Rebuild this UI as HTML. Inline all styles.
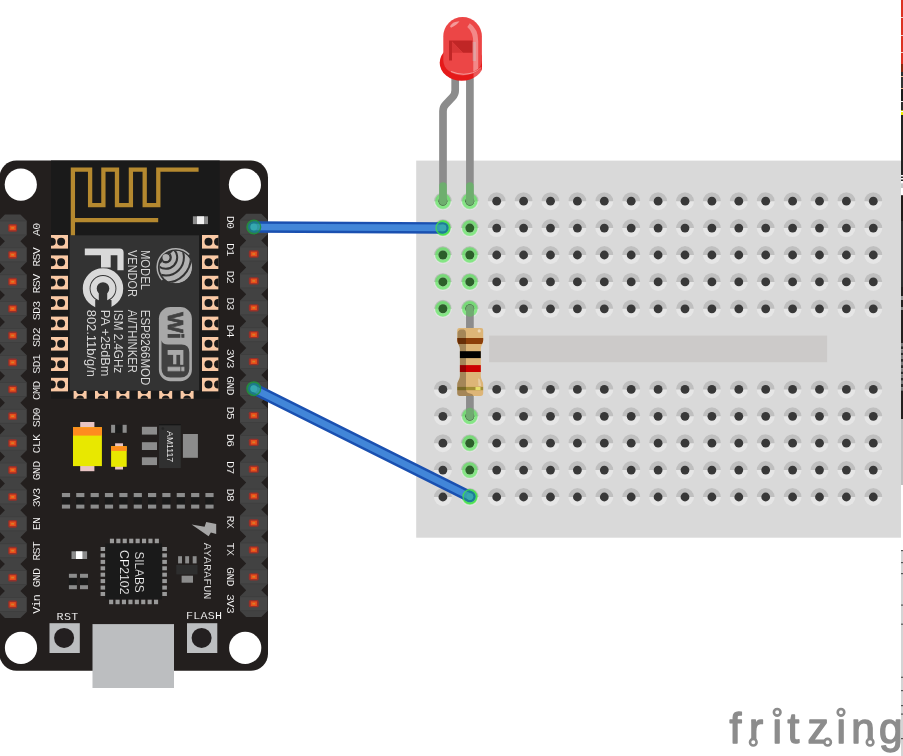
<!DOCTYPE html>
<html lang="en">
<head>
<meta charset="utf-8">
<title>NodeMCU LED breadboard diagram</title>
<style>
html,body{margin:0;padding:0;background:#fff;overflow:hidden}
svg{display:block;will-change:transform}
</style>
</head>
<body>
<svg width="903" height="756" viewBox="0 0 903 756">
<rect width="903" height="756" fill="#fff"/>
<defs><g id="h"><circle r="9" fill="#e6e6e6"/><path d="M-9 0A9 9 0 0 1 9 0Z" fill="#bfbfbf"/><circle r="4.4" fill="#383838"/></g><g id="hg"><circle r="9" fill="#e6e6e6"/><path d="M-9 0A9 9 0 0 1 9 0Z" fill="#bfbfbf"/><circle r="8.2" fill="#55e655" opacity="0.3"/><circle r="6.2" fill="none" stroke="#4fe84f" stroke-width="2.8" opacity="0.5"/><circle r="4.5" fill="#2c5f2a"/></g></defs>
<g id="breadboard">
<rect x="416.2" y="160.6" width="484.8" height="377.1" fill="#d9d9d9"/>
<rect x="489.1" y="335.6" width="338" height="26.6" fill="#cccac9"/>
<use href="#hg" x="442.90" y="201.20"/>
<use href="#hg" x="469.80" y="201.20"/>
<use href="#h" x="496.70" y="201.20"/>
<use href="#h" x="523.60" y="201.20"/>
<use href="#h" x="550.50" y="201.20"/>
<use href="#h" x="577.40" y="201.20"/>
<use href="#h" x="604.30" y="201.20"/>
<use href="#h" x="631.20" y="201.20"/>
<use href="#h" x="658.10" y="201.20"/>
<use href="#h" x="685.00" y="201.20"/>
<use href="#h" x="711.90" y="201.20"/>
<use href="#h" x="738.80" y="201.20"/>
<use href="#h" x="765.70" y="201.20"/>
<use href="#h" x="792.60" y="201.20"/>
<use href="#h" x="819.50" y="201.20"/>
<use href="#h" x="846.40" y="201.20"/>
<use href="#h" x="873.30" y="201.20"/>
<use href="#hg" x="442.90" y="228.10"/>
<use href="#hg" x="469.80" y="228.10"/>
<use href="#h" x="496.70" y="228.10"/>
<use href="#h" x="523.60" y="228.10"/>
<use href="#h" x="550.50" y="228.10"/>
<use href="#h" x="577.40" y="228.10"/>
<use href="#h" x="604.30" y="228.10"/>
<use href="#h" x="631.20" y="228.10"/>
<use href="#h" x="658.10" y="228.10"/>
<use href="#h" x="685.00" y="228.10"/>
<use href="#h" x="711.90" y="228.10"/>
<use href="#h" x="738.80" y="228.10"/>
<use href="#h" x="765.70" y="228.10"/>
<use href="#h" x="792.60" y="228.10"/>
<use href="#h" x="819.50" y="228.10"/>
<use href="#h" x="846.40" y="228.10"/>
<use href="#h" x="873.30" y="228.10"/>
<use href="#hg" x="442.90" y="255.00"/>
<use href="#hg" x="469.80" y="255.00"/>
<use href="#h" x="496.70" y="255.00"/>
<use href="#h" x="523.60" y="255.00"/>
<use href="#h" x="550.50" y="255.00"/>
<use href="#h" x="577.40" y="255.00"/>
<use href="#h" x="604.30" y="255.00"/>
<use href="#h" x="631.20" y="255.00"/>
<use href="#h" x="658.10" y="255.00"/>
<use href="#h" x="685.00" y="255.00"/>
<use href="#h" x="711.90" y="255.00"/>
<use href="#h" x="738.80" y="255.00"/>
<use href="#h" x="765.70" y="255.00"/>
<use href="#h" x="792.60" y="255.00"/>
<use href="#h" x="819.50" y="255.00"/>
<use href="#h" x="846.40" y="255.00"/>
<use href="#h" x="873.30" y="255.00"/>
<use href="#hg" x="442.90" y="281.90"/>
<use href="#hg" x="469.80" y="281.90"/>
<use href="#h" x="496.70" y="281.90"/>
<use href="#h" x="523.60" y="281.90"/>
<use href="#h" x="550.50" y="281.90"/>
<use href="#h" x="577.40" y="281.90"/>
<use href="#h" x="604.30" y="281.90"/>
<use href="#h" x="631.20" y="281.90"/>
<use href="#h" x="658.10" y="281.90"/>
<use href="#h" x="685.00" y="281.90"/>
<use href="#h" x="711.90" y="281.90"/>
<use href="#h" x="738.80" y="281.90"/>
<use href="#h" x="765.70" y="281.90"/>
<use href="#h" x="792.60" y="281.90"/>
<use href="#h" x="819.50" y="281.90"/>
<use href="#h" x="846.40" y="281.90"/>
<use href="#h" x="873.30" y="281.90"/>
<use href="#hg" x="442.90" y="308.80"/>
<use href="#hg" x="469.80" y="308.80"/>
<use href="#h" x="496.70" y="308.80"/>
<use href="#h" x="523.60" y="308.80"/>
<use href="#h" x="550.50" y="308.80"/>
<use href="#h" x="577.40" y="308.80"/>
<use href="#h" x="604.30" y="308.80"/>
<use href="#h" x="631.20" y="308.80"/>
<use href="#h" x="658.10" y="308.80"/>
<use href="#h" x="685.00" y="308.80"/>
<use href="#h" x="711.90" y="308.80"/>
<use href="#h" x="738.80" y="308.80"/>
<use href="#h" x="765.70" y="308.80"/>
<use href="#h" x="792.60" y="308.80"/>
<use href="#h" x="819.50" y="308.80"/>
<use href="#h" x="846.40" y="308.80"/>
<use href="#h" x="873.30" y="308.80"/>
<use href="#h" x="442.90" y="389.40"/>
<use href="#hg" x="469.80" y="389.40"/>
<use href="#h" x="496.70" y="389.40"/>
<use href="#h" x="523.60" y="389.40"/>
<use href="#h" x="550.50" y="389.40"/>
<use href="#h" x="577.40" y="389.40"/>
<use href="#h" x="604.30" y="389.40"/>
<use href="#h" x="631.20" y="389.40"/>
<use href="#h" x="658.10" y="389.40"/>
<use href="#h" x="685.00" y="389.40"/>
<use href="#h" x="711.90" y="389.40"/>
<use href="#h" x="738.80" y="389.40"/>
<use href="#h" x="765.70" y="389.40"/>
<use href="#h" x="792.60" y="389.40"/>
<use href="#h" x="819.50" y="389.40"/>
<use href="#h" x="846.40" y="389.40"/>
<use href="#h" x="873.30" y="389.40"/>
<use href="#h" x="442.90" y="416.30"/>
<use href="#hg" x="469.80" y="416.30"/>
<use href="#h" x="496.70" y="416.30"/>
<use href="#h" x="523.60" y="416.30"/>
<use href="#h" x="550.50" y="416.30"/>
<use href="#h" x="577.40" y="416.30"/>
<use href="#h" x="604.30" y="416.30"/>
<use href="#h" x="631.20" y="416.30"/>
<use href="#h" x="658.10" y="416.30"/>
<use href="#h" x="685.00" y="416.30"/>
<use href="#h" x="711.90" y="416.30"/>
<use href="#h" x="738.80" y="416.30"/>
<use href="#h" x="765.70" y="416.30"/>
<use href="#h" x="792.60" y="416.30"/>
<use href="#h" x="819.50" y="416.30"/>
<use href="#h" x="846.40" y="416.30"/>
<use href="#h" x="873.30" y="416.30"/>
<use href="#h" x="442.90" y="443.20"/>
<use href="#hg" x="469.80" y="443.20"/>
<use href="#h" x="496.70" y="443.20"/>
<use href="#h" x="523.60" y="443.20"/>
<use href="#h" x="550.50" y="443.20"/>
<use href="#h" x="577.40" y="443.20"/>
<use href="#h" x="604.30" y="443.20"/>
<use href="#h" x="631.20" y="443.20"/>
<use href="#h" x="658.10" y="443.20"/>
<use href="#h" x="685.00" y="443.20"/>
<use href="#h" x="711.90" y="443.20"/>
<use href="#h" x="738.80" y="443.20"/>
<use href="#h" x="765.70" y="443.20"/>
<use href="#h" x="792.60" y="443.20"/>
<use href="#h" x="819.50" y="443.20"/>
<use href="#h" x="846.40" y="443.20"/>
<use href="#h" x="873.30" y="443.20"/>
<use href="#h" x="442.90" y="470.10"/>
<use href="#hg" x="469.80" y="470.10"/>
<use href="#h" x="496.70" y="470.10"/>
<use href="#h" x="523.60" y="470.10"/>
<use href="#h" x="550.50" y="470.10"/>
<use href="#h" x="577.40" y="470.10"/>
<use href="#h" x="604.30" y="470.10"/>
<use href="#h" x="631.20" y="470.10"/>
<use href="#h" x="658.10" y="470.10"/>
<use href="#h" x="685.00" y="470.10"/>
<use href="#h" x="711.90" y="470.10"/>
<use href="#h" x="738.80" y="470.10"/>
<use href="#h" x="765.70" y="470.10"/>
<use href="#h" x="792.60" y="470.10"/>
<use href="#h" x="819.50" y="470.10"/>
<use href="#h" x="846.40" y="470.10"/>
<use href="#h" x="873.30" y="470.10"/>
<use href="#h" x="442.90" y="497.00"/>
<use href="#hg" x="469.80" y="497.00"/>
<use href="#h" x="496.70" y="497.00"/>
<use href="#h" x="523.60" y="497.00"/>
<use href="#h" x="550.50" y="497.00"/>
<use href="#h" x="577.40" y="497.00"/>
<use href="#h" x="604.30" y="497.00"/>
<use href="#h" x="631.20" y="497.00"/>
<use href="#h" x="658.10" y="497.00"/>
<use href="#h" x="685.00" y="497.00"/>
<use href="#h" x="711.90" y="497.00"/>
<use href="#h" x="738.80" y="497.00"/>
<use href="#h" x="765.70" y="497.00"/>
<use href="#h" x="792.60" y="497.00"/>
<use href="#h" x="819.50" y="497.00"/>
<use href="#h" x="846.40" y="497.00"/>
<use href="#h" x="873.30" y="497.00"/>
</g>
<g id="nodemcu">
<rect x="-0.5" y="160.5" width="268.5" height="510.3" rx="17" ry="17" fill="#231f1e"/>
<rect x="92.5" y="624.1" width="81.5" height="63.9" fill="#bcbec0"/>
<rect x="51" y="160.5" width="168.7" height="238.2" fill="#1a1a1a"/>
<circle cx="20.8" cy="184.6" r="16.1" fill="#fff"/>
<circle cx="244.9" cy="184.7" r="16.1" fill="#fff"/>
<circle cx="21.0" cy="647.9" r="16.1" fill="#fff"/>
<circle cx="245.2" cy="647.9" r="16.1" fill="#fff"/>
<path d="M72.9 235.8V169.7H90.1V205.2H103.4V169.7H117V205.2H130.9V169.7H144.7V205.2H158.3V169.7H198.6M72.9 220.2H158.2" fill="none" stroke="#b5892f" stroke-width="4.3" stroke-linecap="butt" stroke-linejoin="miter"/>
<rect x="192.9" y="216.3" width="15.1" height="7.8" fill="#8c8c8c"/><rect x="197" y="216.3" width="7" height="7.8" fill="#f2f2f2"/>
<clipPath id="cpl"><rect x="50.9" y="230" width="17.2" height="170"/></clipPath><clipPath id="cpr"><rect x="202" y="230" width="16.6" height="170"/></clipPath><clipPath id="cpb"><rect x="70" y="390.6" width="130" height="8.2"/></clipPath>
<g clip-path="url(#cpl)">
<rect x="50.9" y="235.0" width="17.2" height="13.6" fill="#f9c9a5"/><circle cx="61.1" cy="241.8" r="4" fill="#1a1a1a"/><circle cx="51.8" cy="241.8" r="4" fill="#1a1a1a"/>
<rect x="50.9" y="255.4" width="17.2" height="13.6" fill="#f9c9a5"/><circle cx="61.1" cy="262.2" r="4" fill="#1a1a1a"/><circle cx="51.8" cy="262.2" r="4" fill="#1a1a1a"/>
<rect x="50.9" y="275.8" width="17.2" height="13.6" fill="#f9c9a5"/><circle cx="61.1" cy="282.6" r="4" fill="#1a1a1a"/><circle cx="51.8" cy="282.6" r="4" fill="#1a1a1a"/>
<rect x="50.9" y="296.2" width="17.2" height="13.6" fill="#f9c9a5"/><circle cx="61.1" cy="303.0" r="4" fill="#1a1a1a"/><circle cx="51.8" cy="303.0" r="4" fill="#1a1a1a"/>
<rect x="50.9" y="316.6" width="17.2" height="13.6" fill="#f9c9a5"/><circle cx="61.1" cy="323.4" r="4" fill="#1a1a1a"/><circle cx="51.8" cy="323.4" r="4" fill="#1a1a1a"/>
<rect x="50.9" y="337.0" width="17.2" height="13.6" fill="#f9c9a5"/><circle cx="61.1" cy="343.8" r="4" fill="#1a1a1a"/><circle cx="51.8" cy="343.8" r="4" fill="#1a1a1a"/>
<rect x="50.9" y="357.4" width="17.2" height="13.6" fill="#f9c9a5"/><circle cx="61.1" cy="364.2" r="4" fill="#1a1a1a"/><circle cx="51.8" cy="364.2" r="4" fill="#1a1a1a"/>
<rect x="50.9" y="377.8" width="17.2" height="13.6" fill="#f9c9a5"/><circle cx="61.1" cy="384.6" r="4" fill="#1a1a1a"/><circle cx="51.8" cy="384.6" r="4" fill="#1a1a1a"/>
</g><g clip-path="url(#cpr)">
<rect x="202" y="235.0" width="16.6" height="13.6" fill="#f9c9a5"/><circle cx="208.5" cy="241.8" r="4" fill="#1a1a1a"/><circle cx="218.1" cy="241.8" r="4" fill="#1a1a1a"/>
<rect x="202" y="255.4" width="16.6" height="13.6" fill="#f9c9a5"/><circle cx="208.5" cy="262.2" r="4" fill="#1a1a1a"/><circle cx="218.1" cy="262.2" r="4" fill="#1a1a1a"/>
<rect x="202" y="275.8" width="16.6" height="13.6" fill="#f9c9a5"/><circle cx="208.5" cy="282.6" r="4" fill="#1a1a1a"/><circle cx="218.1" cy="282.6" r="4" fill="#1a1a1a"/>
<rect x="202" y="296.2" width="16.6" height="13.6" fill="#f9c9a5"/><circle cx="208.5" cy="303.0" r="4" fill="#1a1a1a"/><circle cx="218.1" cy="303.0" r="4" fill="#1a1a1a"/>
<rect x="202" y="316.6" width="16.6" height="13.6" fill="#f9c9a5"/><circle cx="208.5" cy="323.4" r="4" fill="#1a1a1a"/><circle cx="218.1" cy="323.4" r="4" fill="#1a1a1a"/>
<rect x="202" y="337.0" width="16.6" height="13.6" fill="#f9c9a5"/><circle cx="208.5" cy="343.8" r="4" fill="#1a1a1a"/><circle cx="218.1" cy="343.8" r="4" fill="#1a1a1a"/>
<rect x="202" y="357.4" width="16.6" height="13.6" fill="#f9c9a5"/><circle cx="208.5" cy="364.2" r="4" fill="#1a1a1a"/><circle cx="218.1" cy="364.2" r="4" fill="#1a1a1a"/>
<rect x="202" y="377.8" width="16.6" height="13.6" fill="#f9c9a5"/><circle cx="208.5" cy="384.6" r="4" fill="#1a1a1a"/><circle cx="218.1" cy="384.6" r="4" fill="#1a1a1a"/>
</g><g clip-path="url(#cpb)">
<rect x="73.6" y="390.6" width="13" height="8.4" fill="#f9c9a5"/><circle cx="80.1" cy="390.2" r="3.9" fill="#1a1a1a"/><circle cx="80.1" cy="399.4" r="3.9" fill="#1a1a1a"/>
<rect x="95.0" y="390.6" width="13" height="8.4" fill="#f9c9a5"/><circle cx="101.5" cy="390.2" r="3.9" fill="#1a1a1a"/><circle cx="101.5" cy="399.4" r="3.9" fill="#1a1a1a"/>
<rect x="116.4" y="390.6" width="13" height="8.4" fill="#f9c9a5"/><circle cx="122.9" cy="390.2" r="3.9" fill="#1a1a1a"/><circle cx="122.9" cy="399.4" r="3.9" fill="#1a1a1a"/>
<rect x="137.8" y="390.6" width="13" height="8.4" fill="#f9c9a5"/><circle cx="144.3" cy="390.2" r="3.9" fill="#1a1a1a"/><circle cx="144.3" cy="399.4" r="3.9" fill="#1a1a1a"/>
<rect x="159.2" y="390.6" width="13" height="8.4" fill="#f9c9a5"/><circle cx="165.7" cy="390.2" r="3.9" fill="#1a1a1a"/><circle cx="165.7" cy="399.4" r="3.9" fill="#1a1a1a"/>
<rect x="180.6" y="390.6" width="13" height="8.4" fill="#f9c9a5"/><circle cx="187.1" cy="390.2" r="3.9" fill="#1a1a1a"/><circle cx="187.1" cy="399.4" r="3.9" fill="#1a1a1a"/>
</g>
<rect x="69.7" y="235.3" width="129.4" height="155.4" fill="#333333"/>
</g>
<g id="headers">
<polygon points="4.9,214.5 20.4,214.5 26.5,220.6 26.5,235.2 20.4,241.3 26.5,247.5 26.5,262.1 20.4,268.2 26.5,274.4 26.5,289.0 20.4,295.1 26.5,301.3 26.5,315.9 20.4,322.1 26.5,328.2 26.5,342.8 20.4,348.9 26.5,355.1 26.5,369.7 20.4,375.8 26.5,381.9 26.5,396.6 20.4,402.7 26.5,408.9 26.5,423.5 20.4,429.6 26.5,435.8 26.5,450.4 20.4,456.6 26.5,462.7 26.5,477.3 20.4,483.4 26.5,489.6 26.5,504.2 20.4,510.3 26.5,516.4 26.5,531.1 20.4,537.2 26.5,543.3 26.5,558.0 20.4,564.1 26.5,570.2 26.5,585.0 20.4,591.1 26.5,597.1 26.5,611.9 20.4,618.0 4.9,618.0 -1.2,611.9 -1.2,597.1 4.9,591.1 -1.2,585.0 -1.2,570.2 4.9,564.1 -1.2,558.0 -1.2,543.3 4.9,537.2 -1.2,531.1 -1.2,516.4 4.9,510.3 -1.2,504.2 -1.2,489.6 4.9,483.4 -1.2,477.3 -1.2,462.7 4.9,456.6 -1.2,450.4 -1.2,435.8 4.9,429.6 -1.2,423.5 -1.2,408.9 4.9,402.7 -1.2,396.6 -1.2,381.9 4.9,375.8 -1.2,369.7 -1.2,355.1 4.9,348.9 -1.2,342.8 -1.2,328.2 4.9,322.1 -1.2,315.9 -1.2,301.3 4.9,295.1 -1.2,289.0 -1.2,274.4 4.9,268.2 -1.2,262.1 -1.2,247.5 4.9,241.3 -1.2,235.2 -1.2,220.6" fill="#424242"/>
<rect x="-1.2" y="220.9" width="27.7" height="14" fill="#464646"/>
<rect x="-1.2" y="220.6" width="27.7" height="0.7" fill="#3d3d3d"/><rect x="-1.2" y="234.6" width="27.7" height="0.7" fill="#3d3d3d"/>
<rect x="8.20" y="224.00" width="8.9" height="7.8" rx="1.6" fill="#96302a"/><rect x="9.6" y="225.55" width="6.2" height="4.7" fill="#e84e1a"/><rect x="11.2" y="227.1" width="2.8" height="1.6" fill="#d5802c"/>
<rect x="-1.2" y="247.8" width="27.7" height="14" fill="#464646"/>
<rect x="-1.2" y="247.5" width="27.7" height="0.7" fill="#3d3d3d"/><rect x="-1.2" y="261.5" width="27.7" height="0.7" fill="#3d3d3d"/>
<rect x="8.20" y="250.90" width="8.9" height="7.8" rx="1.6" fill="#96302a"/><rect x="9.6" y="252.45" width="6.2" height="4.7" fill="#e84e1a"/><rect x="11.2" y="254.0" width="2.8" height="1.6" fill="#d5802c"/>
<rect x="-1.2" y="274.7" width="27.7" height="14" fill="#464646"/>
<rect x="-1.2" y="274.4" width="27.7" height="0.7" fill="#3d3d3d"/><rect x="-1.2" y="288.4" width="27.7" height="0.7" fill="#3d3d3d"/>
<rect x="8.20" y="277.80" width="8.9" height="7.8" rx="1.6" fill="#96302a"/><rect x="9.6" y="279.35" width="6.2" height="4.7" fill="#e84e1a"/><rect x="11.2" y="280.9" width="2.8" height="1.6" fill="#d5802c"/>
<rect x="-1.2" y="301.6" width="27.7" height="14" fill="#464646"/>
<rect x="-1.2" y="301.3" width="27.7" height="0.7" fill="#3d3d3d"/><rect x="-1.2" y="315.3" width="27.7" height="0.7" fill="#3d3d3d"/>
<rect x="8.20" y="304.70" width="8.9" height="7.8" rx="1.6" fill="#96302a"/><rect x="9.6" y="306.25" width="6.2" height="4.7" fill="#e84e1a"/><rect x="11.2" y="307.8" width="2.8" height="1.6" fill="#d5802c"/>
<rect x="-1.2" y="328.5" width="27.7" height="14" fill="#464646"/>
<rect x="-1.2" y="328.2" width="27.7" height="0.7" fill="#3d3d3d"/><rect x="-1.2" y="342.2" width="27.7" height="0.7" fill="#3d3d3d"/>
<rect x="8.20" y="331.60" width="8.9" height="7.8" rx="1.6" fill="#96302a"/><rect x="9.6" y="333.15" width="6.2" height="4.7" fill="#e84e1a"/><rect x="11.2" y="334.7" width="2.8" height="1.6" fill="#d5802c"/>
<rect x="-1.2" y="355.4" width="27.7" height="14" fill="#464646"/>
<rect x="-1.2" y="355.1" width="27.7" height="0.7" fill="#3d3d3d"/><rect x="-1.2" y="369.1" width="27.7" height="0.7" fill="#3d3d3d"/>
<rect x="8.20" y="358.50" width="8.9" height="7.8" rx="1.6" fill="#96302a"/><rect x="9.6" y="360.05" width="6.2" height="4.7" fill="#e84e1a"/><rect x="11.2" y="361.6" width="2.8" height="1.6" fill="#d5802c"/>
<rect x="-1.2" y="382.3" width="27.7" height="14" fill="#464646"/>
<rect x="-1.2" y="382.0" width="27.7" height="0.7" fill="#3d3d3d"/><rect x="-1.2" y="396.0" width="27.7" height="0.7" fill="#3d3d3d"/>
<rect x="8.20" y="385.40" width="8.9" height="7.8" rx="1.6" fill="#96302a"/><rect x="9.6" y="386.95" width="6.2" height="4.7" fill="#e84e1a"/><rect x="11.2" y="388.5" width="2.8" height="1.6" fill="#d5802c"/>
<rect x="-1.2" y="409.2" width="27.7" height="14" fill="#464646"/>
<rect x="-1.2" y="408.9" width="27.7" height="0.7" fill="#3d3d3d"/><rect x="-1.2" y="422.9" width="27.7" height="0.7" fill="#3d3d3d"/>
<rect x="8.20" y="412.30" width="8.9" height="7.8" rx="1.6" fill="#96302a"/><rect x="9.6" y="413.85" width="6.2" height="4.7" fill="#e84e1a"/><rect x="11.2" y="415.4" width="2.8" height="1.6" fill="#d5802c"/>
<rect x="-1.2" y="436.1" width="27.7" height="14" fill="#464646"/>
<rect x="-1.2" y="435.8" width="27.7" height="0.7" fill="#3d3d3d"/><rect x="-1.2" y="449.8" width="27.7" height="0.7" fill="#3d3d3d"/>
<rect x="8.20" y="439.20" width="8.9" height="7.8" rx="1.6" fill="#96302a"/><rect x="9.6" y="440.75" width="6.2" height="4.7" fill="#e84e1a"/><rect x="11.2" y="442.3" width="2.8" height="1.6" fill="#d5802c"/>
<rect x="-1.2" y="463.0" width="27.7" height="14" fill="#464646"/>
<rect x="-1.2" y="462.7" width="27.7" height="0.7" fill="#3d3d3d"/><rect x="-1.2" y="476.7" width="27.7" height="0.7" fill="#3d3d3d"/>
<rect x="8.20" y="466.10" width="8.9" height="7.8" rx="1.6" fill="#96302a"/><rect x="9.6" y="467.65" width="6.2" height="4.7" fill="#e84e1a"/><rect x="11.2" y="469.2" width="2.8" height="1.6" fill="#d5802c"/>
<rect x="-1.2" y="489.9" width="27.7" height="14" fill="#464646"/>
<rect x="-1.2" y="489.6" width="27.7" height="0.7" fill="#3d3d3d"/><rect x="-1.2" y="503.6" width="27.7" height="0.7" fill="#3d3d3d"/>
<rect x="8.20" y="493.00" width="8.9" height="7.8" rx="1.6" fill="#96302a"/><rect x="9.6" y="494.55" width="6.2" height="4.7" fill="#e84e1a"/><rect x="11.2" y="496.1" width="2.8" height="1.6" fill="#d5802c"/>
<rect x="-1.2" y="516.8" width="27.7" height="14" fill="#464646"/>
<rect x="-1.2" y="516.5" width="27.7" height="0.7" fill="#3d3d3d"/><rect x="-1.2" y="530.5" width="27.7" height="0.7" fill="#3d3d3d"/>
<rect x="8.20" y="519.90" width="8.9" height="7.8" rx="1.6" fill="#96302a"/><rect x="9.6" y="521.45" width="6.2" height="4.7" fill="#e84e1a"/><rect x="11.2" y="523.0" width="2.8" height="1.6" fill="#d5802c"/>
<rect x="-1.2" y="543.7" width="27.7" height="14" fill="#464646"/>
<rect x="-1.2" y="543.4" width="27.7" height="0.7" fill="#3d3d3d"/><rect x="-1.2" y="557.4" width="27.7" height="0.7" fill="#3d3d3d"/>
<rect x="8.20" y="546.80" width="8.9" height="7.8" rx="1.6" fill="#96302a"/><rect x="9.6" y="548.35" width="6.2" height="4.7" fill="#e84e1a"/><rect x="11.2" y="549.9" width="2.8" height="1.6" fill="#d5802c"/>
<rect x="-1.2" y="570.6" width="27.7" height="14" fill="#464646"/>
<rect x="-1.2" y="570.3" width="27.7" height="0.7" fill="#3d3d3d"/><rect x="-1.2" y="584.3" width="27.7" height="0.7" fill="#3d3d3d"/>
<rect x="8.20" y="573.70" width="8.9" height="7.8" rx="1.6" fill="#96302a"/><rect x="9.6" y="575.25" width="6.2" height="4.7" fill="#e84e1a"/><rect x="11.2" y="576.8" width="2.8" height="1.6" fill="#d5802c"/>
<rect x="-1.2" y="597.5" width="27.7" height="14" fill="#464646"/>
<rect x="-1.2" y="597.2" width="27.7" height="0.7" fill="#3d3d3d"/><rect x="-1.2" y="611.2" width="27.7" height="0.7" fill="#3d3d3d"/>
<rect x="8.20" y="600.60" width="8.9" height="7.8" rx="1.6" fill="#96302a"/><rect x="9.6" y="602.15" width="6.2" height="4.7" fill="#e84e1a"/><rect x="11.2" y="603.7" width="2.8" height="1.6" fill="#d5802c"/>
<polygon points="246.2,213.7 261.3,213.7 267.4,219.8 267.4,234.4 261.3,240.5 267.4,246.7 267.4,261.3 261.3,267.4 267.4,273.6 267.4,288.2 261.3,294.3 267.4,300.4 267.4,315.1 261.3,321.2 267.4,327.4 267.4,342.0 261.3,348.1 267.4,354.3 267.4,368.9 261.3,375.1 267.4,381.2 267.4,395.8 261.3,401.9 267.4,408.1 267.4,422.7 261.3,428.8 267.4,434.9 267.4,449.6 261.3,455.7 267.4,461.9 267.4,476.5 261.3,482.6 267.4,488.8 267.4,503.4 261.3,509.6 267.4,515.6 267.4,530.4 261.3,536.5 267.4,542.5 267.4,557.2 261.3,563.4 267.4,569.4 267.4,584.1 261.3,590.2 267.4,596.3 267.4,611.0 261.3,617.1 246.2,617.1 240.1,611.0 240.1,596.3 246.2,590.2 240.1,584.1 240.1,569.4 246.2,563.4 240.1,557.2 240.1,542.5 246.2,536.5 240.1,530.4 240.1,515.6 246.2,509.6 240.1,503.4 240.1,488.8 246.2,482.6 240.1,476.5 240.1,461.9 246.2,455.7 240.1,449.6 240.1,434.9 246.2,428.8 240.1,422.7 240.1,408.1 246.2,401.9 240.1,395.8 240.1,381.2 246.2,375.1 240.1,368.9 240.1,354.3 246.2,348.1 240.1,342.0 240.1,327.4 246.2,321.2 240.1,315.1 240.1,300.4 246.2,294.3 240.1,288.2 240.1,273.6 246.2,267.4 240.1,261.3 240.1,246.7 246.2,240.5 240.1,234.4 240.1,219.8" fill="#424242"/>
<rect x="240.1" y="220.1" width="27.3" height="14" fill="#464646"/>
<rect x="240.1" y="219.8" width="27.3" height="0.7" fill="#3d3d3d"/><rect x="240.1" y="233.8" width="27.3" height="0.7" fill="#3d3d3d"/>
<rect x="248.80" y="223.45" width="9.9" height="7.3" rx="1.6" fill="#96302a"/><rect x="250.7" y="224.75" width="6.2" height="4.7" fill="#e84e1a"/><rect x="252.3" y="226.3" width="2.8" height="1.6" fill="#d5802c"/>
<rect x="240.1" y="247.0" width="27.3" height="14" fill="#464646"/>
<rect x="240.1" y="246.7" width="27.3" height="0.7" fill="#3d3d3d"/><rect x="240.1" y="260.7" width="27.3" height="0.7" fill="#3d3d3d"/>
<rect x="248.80" y="250.35" width="9.9" height="7.3" rx="1.6" fill="#96302a"/><rect x="250.7" y="251.65" width="6.2" height="4.7" fill="#e84e1a"/><rect x="252.3" y="253.2" width="2.8" height="1.6" fill="#d5802c"/>
<rect x="240.1" y="273.9" width="27.3" height="14" fill="#464646"/>
<rect x="240.1" y="273.6" width="27.3" height="0.7" fill="#3d3d3d"/><rect x="240.1" y="287.6" width="27.3" height="0.7" fill="#3d3d3d"/>
<rect x="248.80" y="277.25" width="9.9" height="7.3" rx="1.6" fill="#96302a"/><rect x="250.7" y="278.55" width="6.2" height="4.7" fill="#e84e1a"/><rect x="252.3" y="280.1" width="2.8" height="1.6" fill="#d5802c"/>
<rect x="240.1" y="300.8" width="27.3" height="14" fill="#464646"/>
<rect x="240.1" y="300.5" width="27.3" height="0.7" fill="#3d3d3d"/><rect x="240.1" y="314.5" width="27.3" height="0.7" fill="#3d3d3d"/>
<rect x="248.80" y="304.15" width="9.9" height="7.3" rx="1.6" fill="#96302a"/><rect x="250.7" y="305.45" width="6.2" height="4.7" fill="#e84e1a"/><rect x="252.3" y="307.0" width="2.8" height="1.6" fill="#d5802c"/>
<rect x="240.1" y="327.7" width="27.3" height="14" fill="#464646"/>
<rect x="240.1" y="327.4" width="27.3" height="0.7" fill="#3d3d3d"/><rect x="240.1" y="341.4" width="27.3" height="0.7" fill="#3d3d3d"/>
<rect x="248.80" y="331.05" width="9.9" height="7.3" rx="1.6" fill="#96302a"/><rect x="250.7" y="332.35" width="6.2" height="4.7" fill="#e84e1a"/><rect x="252.3" y="333.9" width="2.8" height="1.6" fill="#d5802c"/>
<rect x="240.1" y="354.6" width="27.3" height="14" fill="#464646"/>
<rect x="240.1" y="354.3" width="27.3" height="0.7" fill="#3d3d3d"/><rect x="240.1" y="368.3" width="27.3" height="0.7" fill="#3d3d3d"/>
<rect x="248.80" y="357.95" width="9.9" height="7.3" rx="1.6" fill="#96302a"/><rect x="250.7" y="359.25" width="6.2" height="4.7" fill="#e84e1a"/><rect x="252.3" y="360.8" width="2.8" height="1.6" fill="#d5802c"/>
<rect x="240.1" y="381.5" width="27.3" height="14" fill="#464646"/>
<rect x="240.1" y="381.2" width="27.3" height="0.7" fill="#3d3d3d"/><rect x="240.1" y="395.2" width="27.3" height="0.7" fill="#3d3d3d"/>
<rect x="248.80" y="384.85" width="9.9" height="7.3" rx="1.6" fill="#96302a"/><rect x="250.7" y="386.15" width="6.2" height="4.7" fill="#e84e1a"/><rect x="252.3" y="387.7" width="2.8" height="1.6" fill="#d5802c"/>
<rect x="240.1" y="408.4" width="27.3" height="14" fill="#464646"/>
<rect x="240.1" y="408.1" width="27.3" height="0.7" fill="#3d3d3d"/><rect x="240.1" y="422.1" width="27.3" height="0.7" fill="#3d3d3d"/>
<rect x="248.80" y="411.75" width="9.9" height="7.3" rx="1.6" fill="#96302a"/><rect x="250.7" y="413.05" width="6.2" height="4.7" fill="#e84e1a"/><rect x="252.3" y="414.6" width="2.8" height="1.6" fill="#d5802c"/>
<rect x="240.1" y="435.3" width="27.3" height="14" fill="#464646"/>
<rect x="240.1" y="435.0" width="27.3" height="0.7" fill="#3d3d3d"/><rect x="240.1" y="449.0" width="27.3" height="0.7" fill="#3d3d3d"/>
<rect x="248.80" y="438.65" width="9.9" height="7.3" rx="1.6" fill="#96302a"/><rect x="250.7" y="439.95" width="6.2" height="4.7" fill="#e84e1a"/><rect x="252.3" y="441.5" width="2.8" height="1.6" fill="#d5802c"/>
<rect x="240.1" y="462.2" width="27.3" height="14" fill="#464646"/>
<rect x="240.1" y="461.9" width="27.3" height="0.7" fill="#3d3d3d"/><rect x="240.1" y="475.9" width="27.3" height="0.7" fill="#3d3d3d"/>
<rect x="248.80" y="465.55" width="9.9" height="7.3" rx="1.6" fill="#96302a"/><rect x="250.7" y="466.85" width="6.2" height="4.7" fill="#e84e1a"/><rect x="252.3" y="468.4" width="2.8" height="1.6" fill="#d5802c"/>
<rect x="240.1" y="489.1" width="27.3" height="14" fill="#464646"/>
<rect x="240.1" y="488.8" width="27.3" height="0.7" fill="#3d3d3d"/><rect x="240.1" y="502.8" width="27.3" height="0.7" fill="#3d3d3d"/>
<rect x="248.80" y="492.45" width="9.9" height="7.3" rx="1.6" fill="#96302a"/><rect x="250.7" y="493.75" width="6.2" height="4.7" fill="#e84e1a"/><rect x="252.3" y="495.3" width="2.8" height="1.6" fill="#d5802c"/>
<rect x="240.1" y="516.0" width="27.3" height="14" fill="#464646"/>
<rect x="240.1" y="515.7" width="27.3" height="0.7" fill="#3d3d3d"/><rect x="240.1" y="529.7" width="27.3" height="0.7" fill="#3d3d3d"/>
<rect x="248.80" y="519.35" width="9.9" height="7.3" rx="1.6" fill="#96302a"/><rect x="250.7" y="520.65" width="6.2" height="4.7" fill="#e84e1a"/><rect x="252.3" y="522.2" width="2.8" height="1.6" fill="#d5802c"/>
<rect x="240.1" y="542.9" width="27.3" height="14" fill="#464646"/>
<rect x="240.1" y="542.6" width="27.3" height="0.7" fill="#3d3d3d"/><rect x="240.1" y="556.6" width="27.3" height="0.7" fill="#3d3d3d"/>
<rect x="248.80" y="546.25" width="9.9" height="7.3" rx="1.6" fill="#96302a"/><rect x="250.7" y="547.55" width="6.2" height="4.7" fill="#e84e1a"/><rect x="252.3" y="549.1" width="2.8" height="1.6" fill="#d5802c"/>
<rect x="240.1" y="569.8" width="27.3" height="14" fill="#464646"/>
<rect x="240.1" y="569.5" width="27.3" height="0.7" fill="#3d3d3d"/><rect x="240.1" y="583.5" width="27.3" height="0.7" fill="#3d3d3d"/>
<rect x="248.80" y="573.15" width="9.9" height="7.3" rx="1.6" fill="#96302a"/><rect x="250.7" y="574.45" width="6.2" height="4.7" fill="#e84e1a"/><rect x="252.3" y="576.0" width="2.8" height="1.6" fill="#d5802c"/>
<rect x="240.1" y="596.7" width="27.3" height="14" fill="#464646"/>
<rect x="240.1" y="596.4" width="27.3" height="0.7" fill="#3d3d3d"/><rect x="240.1" y="610.4" width="27.3" height="0.7" fill="#3d3d3d"/>
<rect x="248.80" y="600.05" width="9.9" height="7.3" rx="1.6" fill="#96302a"/><rect x="250.7" y="601.35" width="6.2" height="4.7" fill="#e84e1a"/><rect x="252.3" y="602.9" width="2.8" height="1.6" fill="#d5802c"/>
</g>
<g id="labels" font-family="'Liberation Mono', monospace" font-size="11.7" letter-spacing="-0.7" fill="#fff" stroke="#231f1e" stroke-width="0.12" text-anchor="middle">
<text transform="translate(40.4 229.8) rotate(-90)">A0</text>
<text transform="translate(40.4 257.4) rotate(-90)">RSV</text>
<text transform="translate(40.4 284.0) rotate(-90)">RSV</text>
<text transform="translate(40.4 310.9) rotate(-90)">SD3</text>
<text transform="translate(40.4 337.5) rotate(-90)">SD2</text>
<text transform="translate(40.4 364.3) rotate(-90)">SD1</text>
<text transform="translate(40.4 390.9) rotate(-90)">CMD</text>
<text transform="translate(40.4 417.7) rotate(-90)">SD0</text>
<text transform="translate(40.4 444.1) rotate(-90)">CLK</text>
<text transform="translate(40.4 471.0) rotate(-90)">GND</text>
<text transform="translate(40.4 497.9) rotate(-90)">3V3</text>
<text transform="translate(40.4 523.9) rotate(-90)">EN</text>
<text transform="translate(40.4 551.3) rotate(-90)">RST</text>
<text transform="translate(40.4 578.1) rotate(-90)">GND</text>
<text transform="translate(40.4 604.4) rotate(-90)">Vin</text>
<text transform="translate(227.4 222.0) rotate(90)">D0</text>
<text transform="translate(227.4 249.3) rotate(90)">D1</text>
<text transform="translate(227.4 276.7) rotate(90)">D2</text>
<text transform="translate(227.4 303.6) rotate(90)">D3</text>
<text transform="translate(227.4 330.7) rotate(90)">D4</text>
<text transform="translate(227.4 358.3) rotate(90)">3V3</text>
<text transform="translate(227.4 385.4) rotate(90)">GND</text>
<text transform="translate(227.4 412.7) rotate(90)">D5</text>
<text transform="translate(227.4 440.1) rotate(90)">D6</text>
<text transform="translate(227.4 467.4) rotate(90)">D7</text>
<text transform="translate(227.4 494.8) rotate(90)">D8</text>
<text transform="translate(227.4 521.7) rotate(90)">RX</text>
<text transform="translate(227.4 548.9) rotate(90)">TX</text>
<text transform="translate(227.4 576.4) rotate(90)">GND</text>
<text transform="translate(227.4 603.5) rotate(90)">3V3</text>
<text x="67.1" y="620.2" font-size="11.7" textLength="21" lengthAdjust="spacing">RST</text>
<text x="203.7" y="619.2" font-size="11.7" textLength="35.4" lengthAdjust="spacing">FLASH</text>
</g>
<g id="buttons">
<rect x="49.5" y="623.2" width="30.3" height="29.8" fill="#bcbec0"/><circle cx="64.1" cy="637.9" r="10" fill="#231f20"/>
<rect x="187.0" y="623.2" width="30.3" height="29.8" fill="#bcbec0"/><circle cx="201.6" cy="637.9" r="10" fill="#231f20"/>
</g>
<g id="components">
<rect x="80.2" y="422" width="14.2" height="49.2" fill="#e8c4c4"/><rect x="73" y="427.200" width="28.9" height="38.9" fill="#e8e800"/><rect x="73" y="427.200" width="28.9" height="8.4" fill="#ff8c1f"/>
<rect x="115.1" y="443.3" width="7.9" height="26.2" fill="#e8c4c4"/><rect x="111.1" y="446.200" width="15.6" height="20.6" fill="#e8e800"/><rect x="111.1" y="446.200" width="15.6" height="4.7" fill="#ff8c1f"/>
<rect x="111.1" y="424.8" width="15.6" height="8" fill="#1a1a1a"/><rect x="111.1" y="424.8" width="4" height="8" fill="#8c8c8c"/><rect x="122.6" y="424.8" width="4.1" height="8" fill="#8c8c8c"/>
<rect x="159" y="424.4" width="21.8" height="43.7" fill="#303030"/><rect x="159" y="424" width="21.8" height="1.3" fill="#161616"/><circle cx="162.9" cy="428.5" r="1.3" fill="#242424"/>
<rect x="141.9" y="426.8" width="15.1" height="7.8" fill="#8c8c8c"/>
<rect x="141.9" y="442.2" width="15.1" height="7.8" fill="#8c8c8c"/>
<rect x="141.9" y="457.3" width="15.1" height="7.8" fill="#8c8c8c"/>
<rect x="182.9" y="434" width="15" height="23.8" fill="#8c8c8c"/>
<text transform="translate(167.4 431.1) rotate(90)" font-family="'Liberation Sans', sans-serif" font-size="8.6" fill="#e6e6e6" textLength="31" lengthAdjust="spacingAndGlyphs">AM1117</text>
<rect x="61.9" y="493" width="8.2" height="15.6" fill="#1a1a1a"/><rect x="61.9" y="493" width="8.2" height="4.1" fill="#8c8c8c"/><rect x="61.9" y="504.6" width="8.2" height="4" fill="#8c8c8c"/>
<rect x="76.2" y="493" width="8.2" height="15.6" fill="#1a1a1a"/><rect x="76.2" y="493" width="8.2" height="4.1" fill="#8c8c8c"/><rect x="76.2" y="504.6" width="8.2" height="4" fill="#8c8c8c"/>
<rect x="90.6" y="493" width="8.2" height="15.6" fill="#1a1a1a"/><rect x="90.6" y="493" width="8.2" height="4.1" fill="#8c8c8c"/><rect x="90.6" y="504.6" width="8.2" height="4" fill="#8c8c8c"/>
<rect x="104.9" y="493" width="8.2" height="15.6" fill="#1a1a1a"/><rect x="104.9" y="493" width="8.2" height="4.1" fill="#8c8c8c"/><rect x="104.9" y="504.6" width="8.2" height="4" fill="#8c8c8c"/>
<rect x="119.3" y="493" width="8.2" height="15.6" fill="#1a1a1a"/><rect x="119.3" y="493" width="8.2" height="4.1" fill="#8c8c8c"/><rect x="119.3" y="504.6" width="8.2" height="4" fill="#8c8c8c"/>
<rect x="133.7" y="493" width="8.2" height="15.6" fill="#1a1a1a"/><rect x="133.7" y="493" width="8.2" height="4.1" fill="#8c8c8c"/><rect x="133.7" y="504.6" width="8.2" height="4" fill="#8c8c8c"/>
<rect x="148.0" y="493" width="8.2" height="15.6" fill="#1a1a1a"/><rect x="148.0" y="493" width="8.2" height="4.1" fill="#8c8c8c"/><rect x="148.0" y="504.6" width="8.2" height="4" fill="#8c8c8c"/>
<rect x="162.3" y="493" width="8.2" height="15.6" fill="#1a1a1a"/><rect x="162.3" y="493" width="8.2" height="4.1" fill="#8c8c8c"/><rect x="162.3" y="504.6" width="8.2" height="4" fill="#8c8c8c"/>
<rect x="176.7" y="493" width="8.2" height="15.6" fill="#1a1a1a"/><rect x="176.7" y="493" width="8.2" height="4.1" fill="#8c8c8c"/><rect x="176.7" y="504.6" width="8.2" height="4" fill="#8c8c8c"/>
<rect x="191.1" y="493" width="8.2" height="15.6" fill="#1a1a1a"/><rect x="191.1" y="493" width="8.2" height="4.1" fill="#8c8c8c"/><rect x="191.1" y="504.6" width="8.2" height="4" fill="#8c8c8c"/>
<rect x="205.4" y="493" width="8.2" height="15.6" fill="#1a1a1a"/><rect x="205.4" y="493" width="8.2" height="4.1" fill="#8c8c8c"/><rect x="205.4" y="504.6" width="8.2" height="4" fill="#8c8c8c"/>
<rect x="105.4" y="543.5" width="56.6" height="55.9" fill="#1a1a1a"/>
<rect x="109.9" y="538.7" width="4.1" height="4.5" fill="#999"/><rect x="109.1" y="599.7" width="4.1" height="4.5" fill="#999"/>
<rect x="100.6" y="547.0" width="4.5" height="4" fill="#999"/><rect x="162.3" y="547.0" width="4.6" height="4" fill="#999"/>
<rect x="116.3" y="538.7" width="4.1" height="4.5" fill="#999"/><rect x="115.5" y="599.7" width="4.1" height="4.5" fill="#999"/>
<rect x="100.6" y="553.4" width="4.5" height="4" fill="#999"/><rect x="162.3" y="553.4" width="4.6" height="4" fill="#999"/>
<rect x="122.7" y="538.7" width="4.1" height="4.5" fill="#999"/><rect x="121.9" y="599.7" width="4.1" height="4.5" fill="#999"/>
<rect x="100.6" y="559.9" width="4.5" height="4" fill="#999"/><rect x="162.3" y="559.9" width="4.6" height="4" fill="#999"/>
<rect x="129.2" y="538.7" width="4.1" height="4.5" fill="#999"/><rect x="128.4" y="599.7" width="4.1" height="4.5" fill="#999"/>
<rect x="100.6" y="566.3" width="4.5" height="4" fill="#999"/><rect x="162.3" y="566.3" width="4.6" height="4" fill="#999"/>
<rect x="135.6" y="538.7" width="4.1" height="4.5" fill="#999"/><rect x="134.8" y="599.7" width="4.1" height="4.5" fill="#999"/>
<rect x="100.6" y="572.7" width="4.5" height="4" fill="#999"/><rect x="162.3" y="572.7" width="4.6" height="4" fill="#999"/>
<rect x="142.0" y="538.7" width="4.1" height="4.5" fill="#999"/><rect x="141.2" y="599.7" width="4.1" height="4.5" fill="#999"/>
<rect x="100.6" y="579.1" width="4.5" height="4" fill="#999"/><rect x="162.3" y="579.1" width="4.6" height="4" fill="#999"/>
<rect x="148.4" y="538.7" width="4.1" height="4.5" fill="#999"/><rect x="147.6" y="599.7" width="4.1" height="4.5" fill="#999"/>
<rect x="100.6" y="585.6" width="4.5" height="4" fill="#999"/><rect x="162.3" y="585.6" width="4.6" height="4" fill="#999"/>
<rect x="154.8" y="538.7" width="4.1" height="4.5" fill="#999"/><rect x="154.0" y="599.7" width="4.1" height="4.5" fill="#999"/>
<rect x="100.6" y="592.0" width="4.5" height="4" fill="#999"/><rect x="162.3" y="592.0" width="4.6" height="4" fill="#999"/>
<g font-family="'Liberation Sans', sans-serif" font-size="13" fill="#fff" stroke="#1a1a1a" stroke-width="0.2">
<text transform="translate(135.1 551.4) rotate(90)" textLength="41.2" lengthAdjust="spacingAndGlyphs">SILABS</text>
<text transform="translate(120.1 550) rotate(90)" textLength="44.6" lengthAdjust="spacingAndGlyphs">CP2102</text>
</g>
<rect x="71.5" y="551.3" width="15.6" height="7.7" fill="#8c8c8c"/><rect x="76" y="551.3" width="6.4" height="7.7" fill="#fff"/>
<rect x="68.9" y="573.8" width="8" height="15.4" fill="#1a1a1a"/><rect x="68.9" y="573.8" width="8" height="4" fill="#8c8c8c"/><rect x="68.9" y="585.2" width="8" height="4" fill="#8c8c8c"/>
<rect x="80" y="573.8" width="8" height="15.4" fill="#1a1a1a"/><rect x="80" y="573.8" width="8" height="4" fill="#8c8c8c"/><rect x="80" y="585.2" width="8" height="4" fill="#8c8c8c"/>
<rect x="178.1" y="556.2" width="3.9" height="7.2" fill="#8c8c8c"/>
<rect x="185.2" y="556.2" width="3.9" height="7.2" fill="#8c8c8c"/>
<rect x="192.7" y="556.2" width="3.9" height="7.2" fill="#8c8c8c"/>
<rect x="176.3" y="564.9" width="21.2" height="9.5" fill="#2e2e2e"/><rect x="181.6" y="575.7" width="11.4" height="7" fill="#8c8c8c"/>
<polygon points="191.6,524.4 204.6,526.8 206.2,522.1 216.2,524.1 216.2,534 210.9,532.4 208.6,536.3" fill="#a6a6a6"/>
<text transform="translate(203.9 542.7) rotate(90)" font-family="'Liberation Mono', monospace" font-size="11.6" fill="#e6e6e6" stroke="#231f1e" stroke-width="0.12" textLength="56.7" lengthAdjust="spacingAndGlyphs">AYARAFUN</text>
</g>
<g id="shield">
<path d="M84.8 248.6H119.6Q123.6 248.6 123.6 252.6V270.3H117.4V255.2H110.7V267.6H101V255.2H84.8Z" fill="#d9d9d9"/>
<circle cx="103" cy="288.5" r="16.8" fill="none" stroke="#d9d9d9" stroke-width="6.8"/>
<rect x="95.2" y="300" width="16.3" height="10" fill="#333"/>
<circle cx="103" cy="288.5" r="9.4" fill="none" stroke="#d9d9d9" stroke-width="6.2"/>
<rect x="98.8" y="290" width="8.4" height="12" fill="#333"/>
<g font-family="'Liberation Sans', sans-serif" font-size="12.6" fill="#d6d6d6">
<text transform="translate(141.3 250) rotate(90)" textLength="40" lengthAdjust="spacingAndGlyphs">MODEL</text>
<text transform="translate(127.9 250) rotate(90)" textLength="47" lengthAdjust="spacingAndGlyphs">VENDOR</text>
<text transform="translate(141.3 309.7) rotate(90)" textLength="75.6" lengthAdjust="spacingAndGlyphs">ESP8266MOD</text>
<text transform="translate(127.9 309.7) rotate(90)" textLength="63.2" lengthAdjust="spacingAndGlyphs">AI/THINKER</text>
<text transform="translate(114.2 309.7) rotate(90)" textLength="63.5" lengthAdjust="spacingAndGlyphs">ISM 2.4GHz</text>
<text transform="translate(100.8 309.7) rotate(90)" textLength="66.6" lengthAdjust="spacingAndGlyphs">PA +25dBm</text>
<text transform="translate(87.4 309.7) rotate(90)" textLength="67.3" lengthAdjust="spacingAndGlyphs">802.11b/g/n</text>
</g>
<clipPath id="cps"><circle cx="175.8" cy="267" r="16.3"/></clipPath>
<clipPath id="cph"><polygon points="184,240 210,240 210,300 124,300"/></clipPath>
<g clip-path="url(#cps)"><g clip-path="url(#cph)"><circle cx="175.8" cy="267" r="16.6" fill="#b2b2b2"/>
<g fill="none" stroke="#333">
<circle cx="165.9" cy="257.5" r="4.7" stroke-width="2.5"/><circle cx="165.9" cy="257.5" r="11.3" stroke-width="2"/><circle cx="165.9" cy="257.5" r="18" stroke-width="2"/><circle cx="165.9" cy="257.5" r="25" stroke-width="2"/>
</g></g></g>
<circle cx="165.9" cy="257.5" r="3.4" fill="#b2b2b2"/>
<path d="M189.2 254.400A18.300 18.300 0 0 0 162.300 280" fill="none" stroke="#b2b2b2" stroke-width="1.5"/>
<rect x="158.9" y="307.1" width="33" height="74.1" rx="11.5" fill="#a8a8a8"/>
<path d="M161.500 340.500Q162.500 344.600 168 344.600H181.500Q189.300 344.600 189.300 352.500V368.400Q189.300 377.400 180.300 377.400H170.500Q161.500 377.400 161.500 368.400Z" fill="#414141"/>
<g font-family="'Liberation Sans', sans-serif" font-weight="bold" font-size="21.8" stroke-width="0.7">
<text transform="translate(168.3 312.2) rotate(90)" fill="#414141" stroke="#414141" textLength="26.6" lengthAdjust="spacingAndGlyphs">Wi</text>
<text transform="translate(168.3 348.8) rotate(90)" fill="#a8a8a8" stroke="#a8a8a8" textLength="24" lengthAdjust="spacingAndGlyphs">Fi</text>
</g>
</g>
<g id="led">
<path d="M455.2 75V90.300Q455.200 94.300 452.500 97.100L445.700 104.300Q443 107.100 443 111V201.200" fill="none" stroke="#8c8c8c" stroke-width="7.7" stroke-linecap="round" stroke-linejoin="round"/>
<path d="M469.9 75V201.2" fill="none" stroke="#8c8c8c" stroke-width="7.7" stroke-linecap="round"/>
<path d="M443 186V201.2M469.9 186V201.2" fill="none" stroke="#5cc45c" stroke-opacity="0.62" stroke-width="7.7" stroke-linecap="round"/>
<clipPath id="cpf"><rect x="430" y="40" width="51.9" height="50"/></clipPath>
<ellipse cx="461.7" cy="62.7" rx="22" ry="18.1" fill="#e51a1a" clip-path="url(#cpf)"/>
<path d="M443.3 36.3A19.3 19.3 0 0 1 481.9 36.3V60.500A19.300 15 0 0 1 443.300 60.500Z" fill="#ec4646"/>
<path d="M449 40.5H472.4V52.7H462.9L452 41.5V60.5H449Z" fill="#c02626"/>
<path d="M452 41.5L462.900 52.700H452Z" fill="#d83636"/>
<rect x="472.6" y="42" width="3.3" height="19" fill="#cf7676" opacity="0.85"/>
<path d="M469.800 23.300L467.300 27Q473.300 32 473.300 43V71.500Q476 70.500 478.200 68.800V41Q478.200 29 469.800 23.300Z" fill="#fff" opacity="0.36"/>
<path d="M450 26.300Q452.500 21.500 459.500 21.300Q457 25 451 27.800Z" fill="#fff" opacity="0.45"/>
<path d="M451 71.500Q462 76.200 473 72.800Q478 71 481.200 67.500" fill="none" stroke="#fff" stroke-width="1.100" opacity="0.45"/>
<path d="M473.500 73.200Q478 71.500 481.900 68.300V74.200Q478 77.500 473.500 79Z" fill="#fff" opacity="0.28"/>
</g>
<g id="resistor">
<path d="M469.9 308.6V330M469.9 394V416.3" fill="none" stroke="#8c8c8c" stroke-width="7.7" stroke-linecap="round"/>
<path d="M469.9 308.6V313M469.9 411.5V416.3" fill="none" stroke="#5fbf5f" stroke-opacity="0.6" stroke-width="7.7" stroke-linecap="round"/>
<path id="rb" d="M459.5 327.9H481Q483.2 327.9 483.2 330.2V340Q483.2 343 481.500 345.500Q480.800 347 480.800 349V376Q480.800 378 481.800 380Q483.200 382.500 483.200 385V393.600Q483.200 395.900 481 395.900H459.500Q457.200 395.900 457.200 393.600V385Q457.200 382.500 458.700 380Q459.900 378 459.900 376V349Q459.900 347 459 345.500Q457.200 343 457.200 340V330.200Q457.200 327.900 459.500 327.900Z" fill="#ddb577"/>
<path d="M457.2 337.900H483.200V340Q483.200 342.500 482 344.100H458.400Q457.200 342.500 457.200 340Z" fill="#8c3f0a"/>
<rect x="459.9" y="351.2" width="20.9" height="6.9" fill="#000"/>
<rect x="459.9" y="365.1" width="20.9" height="6.9" fill="#cc0000"/>
<rect x="457.3" y="386.9" width="25.8" height="3.3" fill="#a38e35"/><rect x="475.500" y="387" width="5" height="3.100" fill="#e6de6a"/>
<path d="M459 330.500Q459 329.500 461 329.500H464Q466 330 466 333V389Q466 393 470 393.500Q473 394 473.500 395.900H459.500Q457.200 395.900 457.200 393.600V385Q457.200 382.500 458.700 380Q459.900 378 459.900 376V349Q459.900 347 459 345.500Q457.500 343 457.500 340V333Q457.500 331 459 330.500Z" fill="#000" opacity="0.26"/>
<circle cx="479.2" cy="330.9" r="1.6" fill="#fff" opacity="0.45"/>
<path d="M478 378.500Q479.500 378 480 380L481 384.500V386H478.500Z" fill="#fff" opacity="0.3"/>
</g>
<g id="wires" fill="none" stroke-linecap="round">
<path d="M253.8 227.0L442.9 227.9" stroke="#1a50b0" stroke-width="11.5"/>
<path d="M253.8 227.0L442.9 227.9" stroke="#4286d8" stroke-width="6.6"/>
<circle cx="253.8" cy="227.0" r="6.9" fill="#1fb060" fill-opacity="0.45" stroke="#1f963a" stroke-width="1.3" stroke-opacity="0.85"/>
<circle cx="253.8" cy="227.0" r="3.4" fill="#35aab0" fill-opacity="0.9" stroke="none"/>
<circle cx="442.9" cy="227.9" r="6.9" fill="#22c070" fill-opacity="0.4" stroke="#45e345" stroke-width="1.3" stroke-opacity="0.8"/>
<circle cx="442.9" cy="227.9" r="3.4" fill="#38a8b0" fill-opacity="0.9" stroke="none"/>
<path d="M253.8 388.7L469.9 496.6" stroke="#1a50b0" stroke-width="11.5"/>
<path d="M253.8 388.7L469.9 496.6" stroke="#4286d8" stroke-width="6.6"/>
<circle cx="253.8" cy="388.7" r="6.9" fill="#1fb060" fill-opacity="0.45" stroke="#1f963a" stroke-width="1.3" stroke-opacity="0.85"/>
<circle cx="253.8" cy="388.7" r="3.4" fill="#35aab0" fill-opacity="0.9" stroke="none"/>
<circle cx="469.9" cy="496.6" r="6.9" fill="#22c070" fill-opacity="0.4" stroke="#45e345" stroke-width="1.3" stroke-opacity="0.8"/>
<circle cx="469.9" cy="496.6" r="3.4" fill="#38a8b0" fill-opacity="0.9" stroke="none"/>
</g>
<g id="logo">
<text font-family="'Liberation Sans', sans-serif" font-size="42.5" fill="#8c8c8c" stroke="#8c8c8c" stroke-width="1.4" stroke-linejoin="round" y="743.2" x="729.6 748.9 772.6 787.5 807.5 836.4 851.3 879">fritzing</text>
<circle cx="753.3" cy="742.2" r="3.3" fill="#fff" stroke="#8c8c8c" stroke-width="2.6"/>
<circle cx="827.6" cy="742.2" r="3.3" fill="#fff" stroke="#8c8c8c" stroke-width="2.6"/>
<circle cx="870.1" cy="742.2" r="3.3" fill="#fff" stroke="#8c8c8c" stroke-width="2.6"/>
<circle cx="777.2" cy="712.3" r="3.3" fill="#fff" stroke="#8c8c8c" stroke-width="2.6"/>
<circle cx="841.0" cy="712.3" r="3.3" fill="#fff" stroke="#8c8c8c" stroke-width="2.6"/>
</g>
<g id="strip">
<rect x="901" y="0" width="2" height="64.0" fill="#dc3222"/>
<rect x="901" y="64" width="2" height="8.0" fill="#86280f"/>
<rect x="901" y="72" width="2" height="4.0" fill="#2a2f2f"/>
<rect x="901" y="76" width="2" height="1.0" fill="#f0b890"/>
<rect x="901" y="77" width="2" height="11.0" fill="#333"/>
<rect x="901" y="88" width="2" height="1.0" fill="#f0b890"/>
<rect x="901" y="89" width="2" height="12.0" fill="#1a1a1a"/>
<rect x="901" y="101" width="2" height="1.0" fill="#eee"/>
<rect x="901" y="102" width="2" height="8.0" fill="#2c2c2c"/>
<rect x="901" y="110" width="2" height="1.0" fill="#b0b000"/>
<rect x="901" y="112" width="2" height="3.0" fill="#f0f000"/>
<rect x="901" y="115" width="2" height="60.0" fill="#222"/>
<rect x="901" y="175" width="2" height="1.5" fill="#fff"/>
<rect x="901" y="176.5" width="2" height="1.5" fill="#222"/>
<rect x="901" y="178" width="2" height="1.5" fill="#fff"/>
<rect x="901" y="179.5" width="2" height="1.5" fill="#222"/>
<rect x="901" y="181" width="2" height="2.3" fill="#fff"/>
<rect x="901" y="183.3" width="2" height="4.7" fill="#c8c8c8"/>
<rect x="901" y="188" width="2" height="7.2" fill="#fff"/>
<rect x="901" y="195.2" width="2" height="25.8" fill="#1f1a18"/>
<rect x="901" y="221" width="2" height="66.0" fill="#2e2e2e"/>
<rect x="901" y="287" width="2" height="9.0" fill="#231f1e"/>
<rect x="901" y="296" width="2" height="4.0" fill="#999"/>
<rect x="901" y="300" width="2" height="7.0" fill="#231f1e"/>
<rect x="901" y="307" width="2" height="3.0" fill="#888"/>
<rect x="901" y="310" width="2" height="33.0" fill="#231f1e"/>
<rect x="901" y="343.0" width="2" height="3.2" fill="#7a7a7a"/>
<rect x="901" y="346.2" width="2" height="3.1" fill="#2a2a2a"/>
<rect x="901" y="349.3" width="2" height="3.2" fill="#7a7a7a"/>
<rect x="901" y="352.5" width="2" height="3.1" fill="#2a2a2a"/>
<rect x="901" y="355.6" width="2" height="3.2" fill="#7a7a7a"/>
<rect x="901" y="358.8" width="2" height="3.1" fill="#2a2a2a"/>
<rect x="901" y="361.90000000000003" width="2" height="3.2" fill="#7a7a7a"/>
<rect x="901" y="365.1" width="2" height="3.1" fill="#2a2a2a"/>
<rect x="901" y="368.20000000000005" width="2" height="3.2" fill="#7a7a7a"/>
<rect x="901" y="371.40000000000003" width="2" height="3.1" fill="#2a2a2a"/>
<rect x="901" y="374.50000000000006" width="2" height="3.2" fill="#7a7a7a"/>
<rect x="901" y="377.70000000000005" width="2" height="3.1" fill="#2a2a2a"/>
<rect x="901" y="380.80000000000007" width="2" height="3.2" fill="#7a7a7a"/>
<rect x="901" y="384.00000000000006" width="2" height="3.1" fill="#2a2a2a"/>
<rect x="901" y="387.1000000000001" width="2" height="3.2" fill="#7a7a7a"/>
<rect x="901" y="390.30000000000007" width="2" height="3.1" fill="#2a2a2a"/>
<rect x="901" y="391" width="2" height="28.0" fill="#231f1e"/>
<rect x="901" y="419" width="2" height="66.0" fill="#c0c0c0"/>
<rect x="901" y="485" width="2" height="65.0" fill="#fff"/>
<rect x="901" y="550" width="2" height="206.0" fill="#d4d4d4"/>
<rect x="901" y="17" width="2" height="1" fill="#f6d0c8"/>
<rect x="901" y="35" width="2" height="1" fill="#f6d0c8"/>
<rect x="901" y="52" width="2" height="1" fill="#f6d0c8"/>
<rect x="901" y="550" width="2" height="1.2" fill="#555"/>
<rect x="901" y="562" width="2" height="1.2" fill="#555"/>
<rect x="901" y="573" width="2" height="1.2" fill="#555"/>
<rect x="901" y="604.5" width="2" height="1.2" fill="#555"/>
<rect x="901" y="623.6" width="2" height="1.2" fill="#555"/>
<rect x="901" y="676.7" width="2" height="1.2" fill="#555"/>
<rect x="901" y="690" width="2" height="1.2" fill="#555"/>
<rect x="901" y="705" width="2" height="1.2" fill="#555"/>
<rect x="901" y="713.5" width="2" height="1.2" fill="#555"/>
<rect x="901" y="738" width="2" height="1.2" fill="#555"/>
</g>
</svg>
</body>
</html>
